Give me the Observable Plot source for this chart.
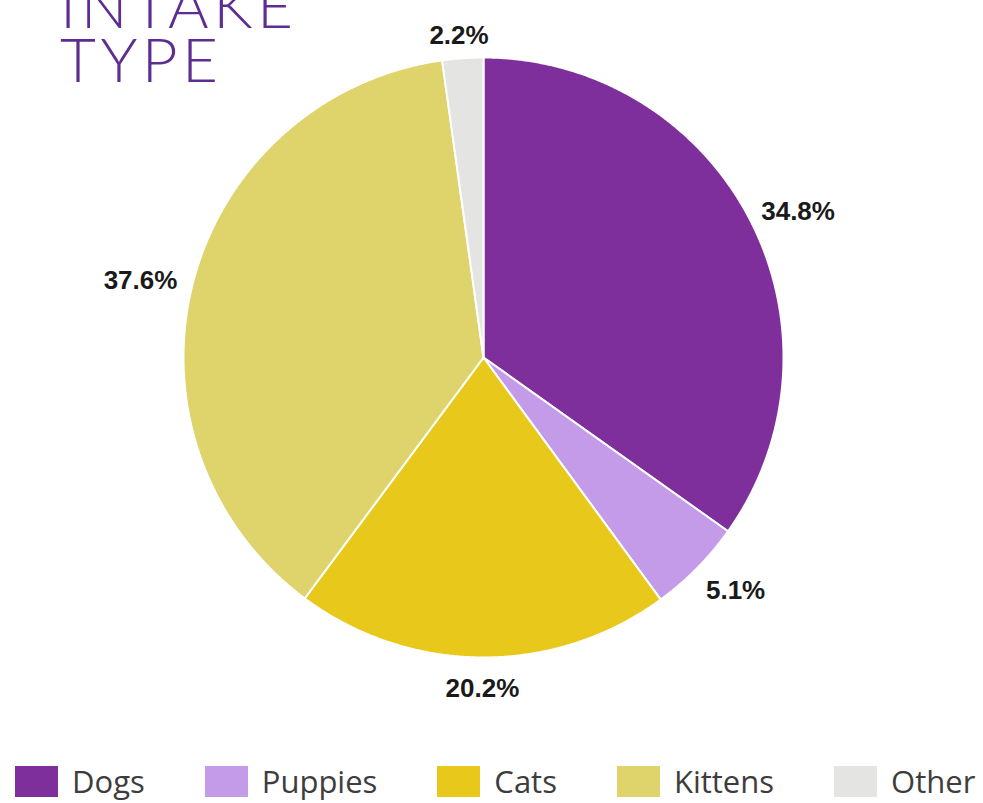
<!DOCTYPE html>
<html>
<head>
<meta charset="utf-8">
<script src="https://cdn.jsdelivr.net/npm/d3@7"></script>
<script src="https://cdn.jsdelivr.net/npm/@observablehq/plot@0.6"></script>
<style>
  html, body { margin: 0; padding: 0; background: #fff; }
  #wrap { position: relative; width: 983px; height: 803px; overflow: hidden; }
  #title { position: absolute; left: 60px; top: -23px; font-family: Lato, "Open Sans", sans-serif; font-weight: 300;
           font-size: 62px; line-height: 54px; letter-spacing: 4.5px; color: #5e2d91; z-index: 2; }
  #chart { position: absolute; left: 0; top: 0; }
  #legend { position: absolute; left: 15px; top: 766px; height: 31px; display: flex; align-items: center; gap: 60px;
            font-family: "Open Sans", sans-serif; font-size: 31px; line-height: 31px; color: #3d3d3d; }
  .item { display: flex; align-items: center; gap: 14px; height: 31px; }
  .sw { width: 43px; height: 31px; display: inline-block; }
</style>
</head>
<body>
<div id="wrap">
  <div id="title">INTAKE<br>TYPE</div>
  <div id="chart"></div>
  <div id="legend"></div>
</div>
<script>
const categories = ["Dogs", "Puppies", "Cats", "Kittens", "Other"];
const shares = [34.8, 5.1, 20.2, 37.6, 2.2];
const colors = ["#7f2f9c", "#c49be8", "#e8c81a", "#dfd36c", "#e4e5e2"];

const W = 983, H = 745, cx = 483, cy = 357, R = 300;

const arcs = d3.pie().sort(null).value(d => d)(shares);

// slice outlines in unit-circle coordinates (angle measured clockwise from 12 o'clock)
const slicePts = [];
arcs.forEach((a, i) => {
  const cat = categories[i];
  slicePts.push({cat, x: 0, y: 0});
  const n = Math.max(2, Math.ceil((a.endAngle - a.startAngle) / 0.005));
  for (let k = 0; k <= n; k++) {
    const t = a.startAngle + (a.endAngle - a.startAngle) * k / n;
    slicePts.push({cat, x: Math.sin(t), y: Math.cos(t)});
  }
  slicePts.push({cat, x: 0, y: 0});
});

const labels = arcs.map((a, i) => {
  const m = (a.startAngle + a.endAngle) / 2;
  return {
    text: shares[i].toFixed(1) + "%",
    x: Math.sin(m) * 1.18,
    y: Math.cos(m) * 1.09
  };
});

const plot = Plot.plot({
  width: W,
  height: H,
  margin: 0,
  x: {domain: [-cx / R, (W - cx) / R], range: [0, W], axis: null},
  y: {domain: [-(H - cy) / R, cy / R], range: [H, 0], axis: null},
  color: {domain: categories, range: colors},
  style: {background: "transparent"},
  marks: [
    Plot.line(slicePts, {x: "x", y: "y", z: "cat", fill: "cat", stroke: "white", strokeWidth: 2, strokeLinejoin: "round", curve: "linear"}),
    Plot.text(labels, {x: "x", y: "y", text: "text", fill: "#1a1a1a", fontSize: 26, fontWeight: "bold",
      fontFamily: "Liberation Sans, Arial, sans-serif", textAnchor: "middle", lineAnchor: "middle", dy: 4})
  ]
});
document.getElementById("chart").appendChild(plot);

const legend = document.getElementById("legend");
categories.forEach((c, i) => {
  const it = document.createElement("div");
  it.className = "item";
  const sw = document.createElement("span");
  sw.className = "sw";
  sw.style.background = colors[i];
  const tx = document.createElement("span");
  tx.textContent = c;
  it.appendChild(sw);
  it.appendChild(tx);
  legend.appendChild(it);
});
</script>
</body>
</html>
